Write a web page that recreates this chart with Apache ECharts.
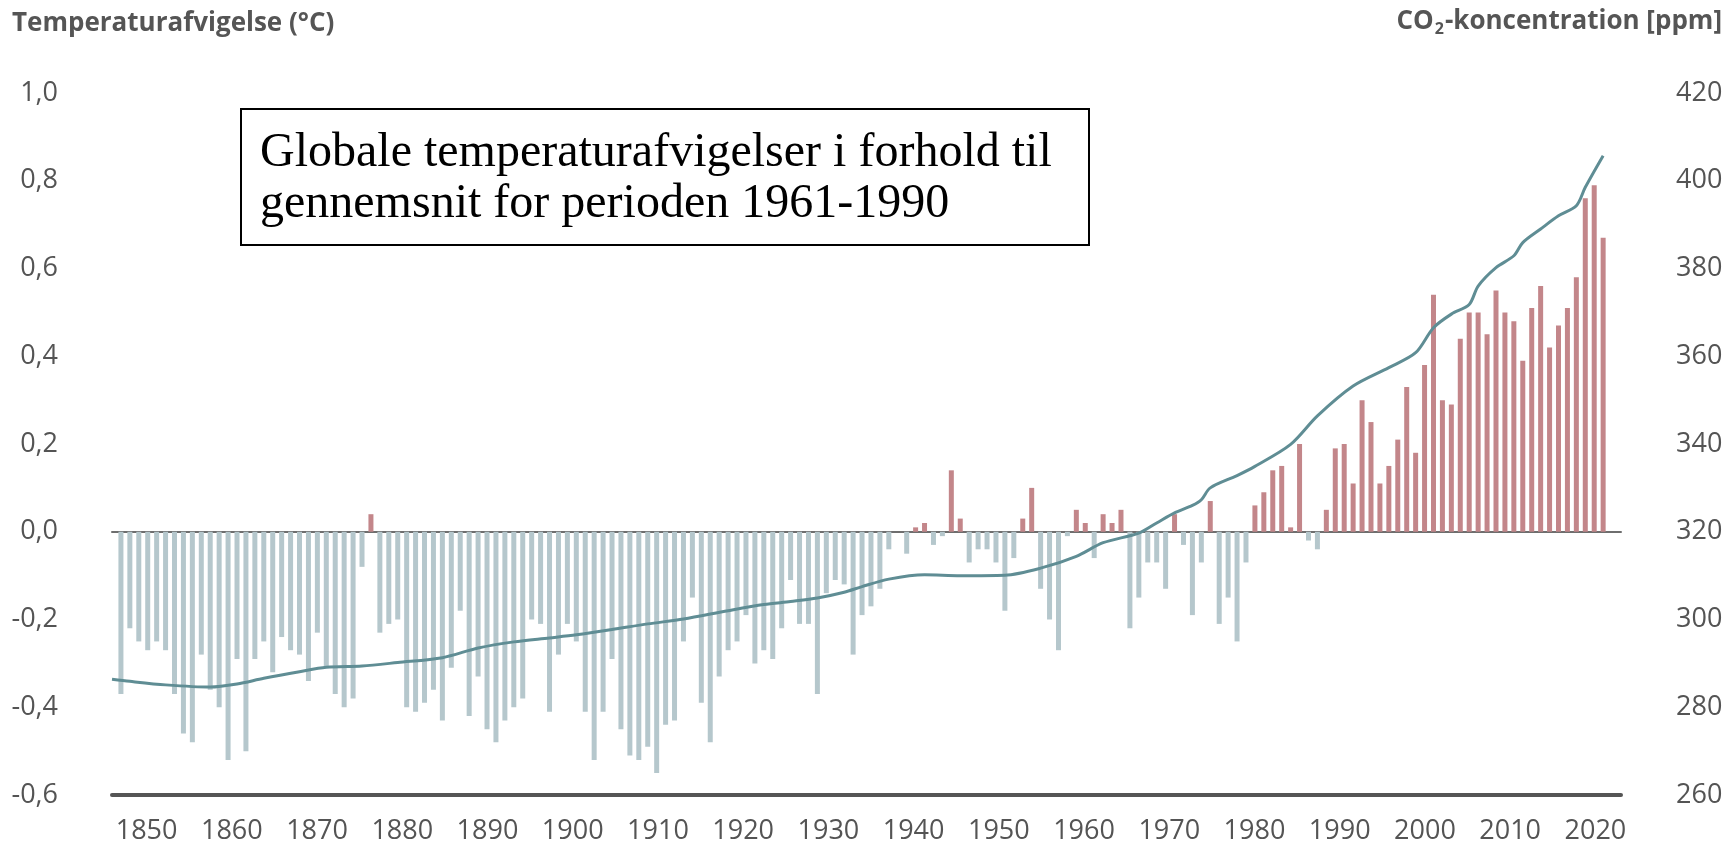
<!DOCTYPE html>
<html>
<head>
<meta charset="utf-8">
<script src="https://cdn.jsdelivr.net/npm/echarts@6/dist/echarts.min.js"></script>
<style>
  html, body { margin: 0; padding: 0; background: #fff; }
  #chart { width: 1730px; height: 848px; }
</style>
</head>
<body>
<div id="chart"></div>
<script>
// temperaturafvigelse pr. år (°C)
var years = [];
for (var y = 1850; y <= 2016; y++) years.push(y);
var tempAnomaly = [
  -0.37, -0.22, -0.25, -0.27, -0.25, -0.27, -0.37, -0.46, -0.48, -0.28,
  -0.36, -0.40, -0.52, -0.29, -0.50, -0.29, -0.25, -0.32, -0.24, -0.27,
  -0.28, -0.34, -0.23, -0.31, -0.37, -0.40, -0.38, -0.08, 0.04, -0.23,
  -0.21, -0.20, -0.40, -0.41, -0.39, -0.36, -0.43, -0.31, -0.18, -0.42,
  -0.33, -0.45, -0.48, -0.43, -0.40, -0.38, -0.20, -0.21, -0.41, -0.28,
  -0.21, -0.25, -0.41, -0.52, -0.41, -0.29, -0.45, -0.51, -0.52, -0.49,
  -0.55, -0.44, -0.43, -0.25, -0.15, -0.39, -0.48, -0.33, -0.27, -0.25,
  -0.19, -0.30, -0.27, -0.29, -0.22, -0.11, -0.21, -0.21, -0.37, -0.14,
  -0.11, -0.12, -0.28, -0.19, -0.17, -0.13, -0.04, 0.00, -0.05, 0.01,
  0.02, -0.03, -0.01, 0.14, 0.03, -0.07, -0.04, -0.04, -0.07, -0.18,
  -0.06, 0.03, 0.10, -0.13, -0.20, -0.27, -0.01, 0.05, 0.02, -0.06,
  0.04, 0.02, 0.05, -0.22, -0.15, -0.07, -0.07, -0.13, 0.04, -0.03,
  -0.19, -0.07, 0.07, -0.21, -0.15, -0.25, -0.07, 0.06, 0.09, 0.14,
  0.15, 0.01, 0.20, -0.02, -0.04, 0.05, 0.19, 0.20, 0.11, 0.30,
  0.25, 0.11, 0.15, 0.21, 0.33, 0.18, 0.38, 0.54, 0.30, 0.29,
  0.44, 0.50, 0.50, 0.45, 0.55, 0.50, 0.48, 0.39, 0.51, 0.56,
  0.42, 0.47, 0.51, 0.58, 0.76, 0.79, 0.67
];

// CO2-koncentration (ppm)
var co2Years = [
  1849, 1851, 1855, 1860, 1863, 1866, 1870, 1873, 1877, 1881,
  1886, 1890, 1894, 1898, 1901, 1905, 1909, 1913, 1918, 1922,
  1925, 1928, 1931, 1933, 1936, 1940, 1944, 1949, 1953, 1957,
  1960, 1964, 1966, 1968, 1970, 1971, 1972, 1975, 1977, 1981,
  1984, 1988, 1992, 1995, 1997, 1999, 2001, 2002, 2004, 2006,
  2007, 2009, 2011, 2013, 2014, 2016
];
var co2Values = [
  286.4, 285.9, 285.1, 284.6, 285.3, 286.6, 288.1, 289.1, 289.4, 290.2,
  291.3, 293.5, 294.9, 295.8, 296.5, 297.7, 299.0, 300.1, 302.0, 303.4,
  304.1, 304.9, 306.2, 307.5, 309.2, 310.2, 310.0, 310.1, 311.7, 314.4,
  317.5, 319.7, 322.0, 324.3, 326.0, 327.3, 330.0, 332.8, 334.9, 339.9,
  346.4, 353.2, 357.4, 360.8, 366.5, 369.6, 371.8, 376.0, 380.2, 382.9,
  385.9, 389.0, 392.0, 394.3, 398.5, 405.7
];

var decadeLabels = ["1850", "1860", "1870", "1880", "1890", "1900", "1910", "1920", "1930",
  "1940", "1950", "1960", "1970", "1980", "1990", "2000", "2010", "2020"];

var fontColor = "#545454";
var chart = echarts.init(document.getElementById("chart"));

var option = {
  animation: false,
  backgroundColor: "#fff",
  textStyle: { fontFamily: "Open Sans" },
  grid: [
    { left: 112, right: 109, top: 93, bottom: 53 },
    { left: 104, right: 92, top: 93, bottom: 53 }
  ],
  xAxis: [
    {
      type: "value",
      gridIndex: 0,
      min: 1849,
      max: 2018,
      axisLine: { onZero: true, lineStyle: { color: "#6e6e6e", width: 2 } },
      axisTick: { show: false },
      axisLabel: { show: false },
      splitLine: { show: false }
    },
    {
      type: "value",
      gridIndex: 0,
      position: "bottom",
      min: 1849,
      max: 2018,
      axisLine: { onZero: false, lineStyle: { color: "#555", width: 4 } },
      axisTick: { show: false },
      axisLabel: { show: false },
      splitLine: { show: false }
    },
    {
      type: "category",
      gridIndex: 1,
      data: decadeLabels,
      boundaryGap: true,
      axisLine: { show: false },
      axisTick: { show: false },
      axisLabel: { color: fontColor, fontSize: 27, margin: 23, fontFamily: "Open Sans" }
    }
  ],
  yAxis: [
    {
      type: "value",
      gridIndex: 0,
      min: -0.6,
      max: 1.0,
      interval: 0.2,
      axisLine: { show: false },
      axisTick: { show: false },
      splitLine: { show: false },
      axisLabel: {
        color: fontColor,
        fontSize: 27,
        margin: 54,
        formatter: function (v) { return v.toFixed(1).replace(".", ","); }
      }
    },
    {
      type: "value",
      gridIndex: 0,
      position: "right",
      min: 260,
      max: 420,
      interval: 20,
      axisLine: { show: false },
      axisTick: { show: false },
      splitLine: { show: false },
      axisLabel: { color: fontColor, fontSize: 27, margin: 55 }
    },
    { type: "value", gridIndex: 1, show: false, min: 0, max: 1 }
  ],
  graphic: [
    {
      type: "text",
      left: 12,
      top: 11,
      style: { text: "Temperaturafvigelse (°C)", fill: "#555", font: "bold 26px 'Open Sans'" }
    },
    {
      type: "text",
      right: 8,
      top: 9,
      style: {
        text: "{n|CO}{s|2}{n|-koncentration [ppm]}",
        rich: {
          n: { fill: "#555", fontSize: 26, fontWeight: "bold", fontFamily: "Open Sans", lineHeight: 31 },
          s: { fill: "#555", fontSize: 16, fontWeight: "bold", fontFamily: "Open Sans", lineHeight: 12, verticalAlign: "bottom", padding: [0, 1, 0, 1] }
        }
      }
    },
    {
      type: "rect",
      shape: { x: 241, y: 109, width: 848, height: 136 },
      style: { fill: "#fff", stroke: "#000", lineWidth: 2 },
      z: 10
    },
    {
      type: "text",
      x: 260,
      y: 128,
      z: 11,
      style: {
        text: "Globale temperaturafvigelser i forhold til\ngennemsnit for perioden 1961-1990",
        fill: "#000",
        font: "48px 'Liberation Serif'",
        lineHeight: 51
      }
    }
  ],
  series: [
    {
      name: "Temperaturafvigelse",
      type: "bar",
      xAxisIndex: 0,
      yAxisIndex: 0,
      barWidth: 5,
      data: years.map(function (yr, i) { return [yr, tempAnomaly[i]]; }),
      itemStyle: {
        color: function (p) { return p.value[1] >= 0 ? "#c3868a" : "#b5c7cc"; }
      }
    },
    {
      name: "CO2",
      type: "line",
      xAxisIndex: 0,
      yAxisIndex: 1,
      symbol: "none",
      smooth: 0.3,
      lineStyle: { color: "#5f8d94", width: 3 },
      data: co2Years.map(function (yr, i) { return [yr, co2Values[i]]; }),
      z: 5
    }
  ]
};

chart.setOption(option);
</script>
</body>
</html>
